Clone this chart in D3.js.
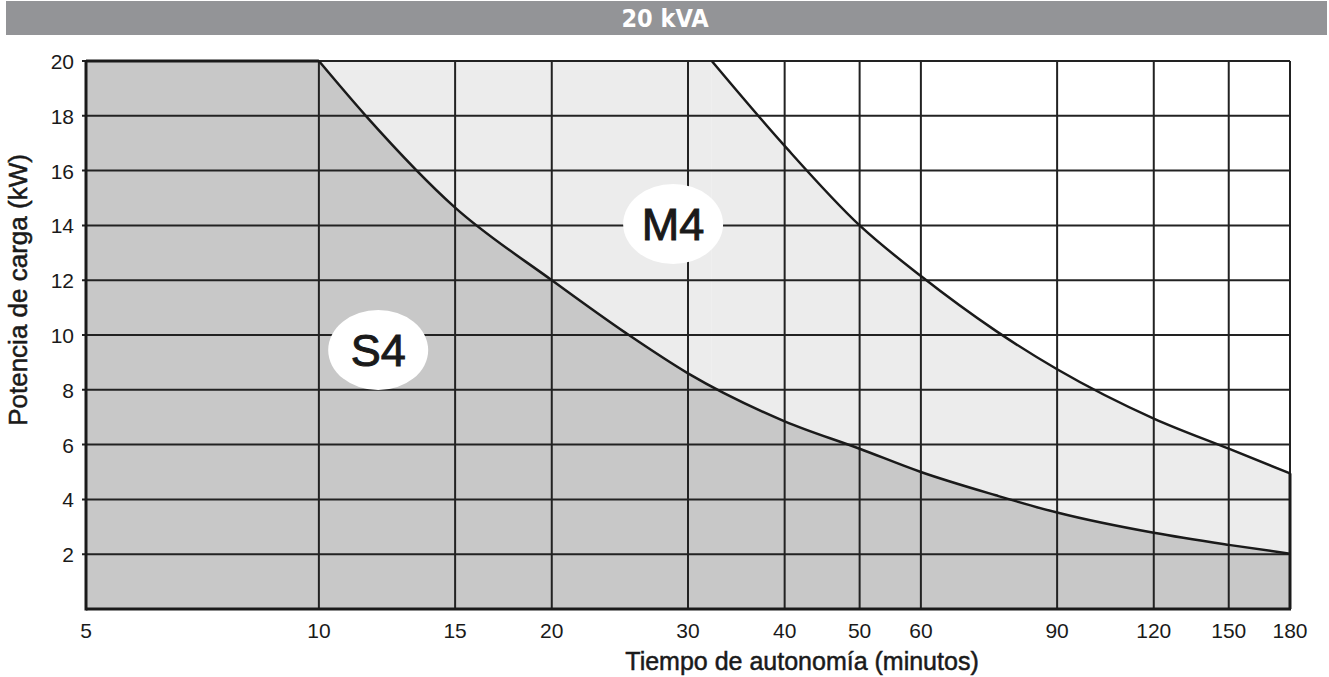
<!DOCTYPE html>
<html>
<head>
<meta charset="utf-8">
<script src="https://cdn.jsdelivr.net/npm/d3@7"></script>
<style>
  body { margin: 0; background: #fff; }
  text { font-family: "Liberation Sans", Arial, sans-serif; fill: #1a1a1a; }
</style>
</head>
<body>
<div id="chart"></div>
<script>
// tick values
var xTicks = [5, 10, 15, 20, 30, 40, 50, 60, 90, 120, 150, 180];
var yTicks = [2, 4, 6, 8, 10, 12, 14, 16, 18, 20];

// S4: flat top then decreasing curve
var s4FlatTime = [5, 10];
var s4FlatPower = [20, 20];
var s4Time = [10, 11.5, 15, 20, 25, 30, 40, 50, 60, 75, 90, 120, 150, 180];
var s4Power = [20, 18, 14.65, 12.0, 10.05, 8.6, 6.85, 5.85, 5.0, 4.15, 3.52, 2.78, 2.34, 2.02];

// M4: flat top then decreasing curve
var m4FlatTime = [10, 32.2];
var m4FlatPower = [20, 20];
var m4Time = [32.2, 40, 50, 60, 75, 90, 120, 150, 180];
var m4Power = [20, 16.9, 14.0, 12.15, 10.15, 8.75, 6.95, 5.85, 4.95];

// label bubbles
var labels = [
  {name: "S4", time: 11.93, power: 9.45},
  {name: "M4", time: 28.7, power: 14.05}
];

var W = 1329, H = 677;

var svg = d3.select("#chart")
  .append("svg")
  .attr("width", W)
  .attr("height", H);

var x = d3.scaleLog().domain([5, 180]).range([86, 1290]);
var y = d3.scaleLinear().domain([0, 20]).range([609, 61]);

function zip(t, p) { return t.map(function (d, i) { return [d, p[i]]; }); }

// title bar
svg.append("rect")
  .attr("x", 6).attr("y", 1)
  .attr("width", 1321).attr("height", 34)
  .attr("fill", "#939497");
svg.append("text")
  .attr("x", 665).attr("y", 27)
  .attr("text-anchor", "middle")
  .style("fill", "#fff")
  .style("font-family", "'Liberation Sans Narrow', 'DejaVu Sans Condensed', sans-serif")
  .style("font-weight", "bold")
  .style("font-size", "25px")
  .text("20 kVA");

var areaCurve = d3.area()
  .x(function (d) { return x(d[0]); })
  .y0(y(0))
  .y1(function (d) { return y(d[1]); })
  .curve(d3.curveMonotoneX);
var areaFlat = d3.area()
  .x(function (d) { return x(d[0]); })
  .y0(y(0))
  .y1(function (d) { return y(d[1]); });
var lineCurve = d3.line()
  .x(function (d) { return x(d[0]); })
  .y(function (d) { return y(d[1]); })
  .curve(d3.curveMonotoneX);
var lineFlat = d3.line()
  .x(function (d) { return x(d[0]); })
  .y(function (d) { return y(d[1]); });

// M4 light fill
svg.append("path").attr("d", areaFlat(zip(m4FlatTime, m4FlatPower))).attr("fill", "#ececec");
svg.append("path").attr("d", areaCurve(zip(m4Time, m4Power))).attr("fill", "#ececec");
// S4 grey fill
svg.append("path").attr("d", areaFlat(zip(s4FlatTime, s4FlatPower))).attr("fill", "#c8c8c8");
svg.append("path").attr("d", areaCurve(zip(s4Time, s4Power))).attr("fill", "#c8c8c8");

// grid
svg.append("g").selectAll("line.v")
  .data(xTicks)
  .enter().append("line")
  .attr("x1", function (d) { return x(d); })
  .attr("x2", function (d) { return x(d); })
  .attr("y1", y(20)).attr("y2", y(0))
  .attr("stroke", "#222").attr("stroke-width", 2);
svg.append("g").selectAll("line.h")
  .data(yTicks)
  .enter().append("line")
  .attr("x1", x(5) - 4).attr("x2", x(180))
  .attr("y1", function (d) { return y(d); })
  .attr("y2", function (d) { return y(d); })
  .attr("stroke", "#222").attr("stroke-width", 2);

// curves
svg.append("path").attr("d", lineFlat(zip(s4FlatTime, s4FlatPower)))
  .attr("fill", "none").attr("stroke", "#1a1a1a").attr("stroke-width", 3);
svg.append("path").attr("d", lineCurve(zip(s4Time, s4Power)))
  .attr("fill", "none").attr("stroke", "#1a1a1a").attr("stroke-width", 2.5);
svg.append("path").attr("d", lineCurve(zip(m4Time, m4Power)))
  .attr("fill", "none").attr("stroke", "#1a1a1a").attr("stroke-width", 2.5);

// frame
svg.append("line")
  .attr("x1", x(5)).attr("x2", x(5)).attr("y1", y(20) - 1).attr("y2", y(0) + 1.5)
  .attr("stroke", "#1a1a1a").attr("stroke-width", 3);
svg.append("line")
  .attr("x1", x(5)).attr("x2", x(180) + 1).attr("y1", y(0)).attr("y2", y(0))
  .attr("stroke", "#1a1a1a").attr("stroke-width", 3);
svg.append("line")
  .attr("x1", x(180)).attr("x2", x(180)).attr("y1", y(m4Power[m4Power.length - 1])).attr("y2", y(0))
  .attr("stroke", "#1a1a1a").attr("stroke-width", 3);

// tick labels
svg.append("g").selectAll("text")
  .data(yTicks)
  .enter().append("text")
  .attr("x", 74)
  .attr("y", function (d) { return y(d) + 8; })
  .attr("text-anchor", "end")
  .style("font-size", "21px")
  .text(function (d) { return d; });
svg.append("g").selectAll("text")
  .data(xTicks)
  .enter().append("text")
  .attr("x", function (d) { return x(d); })
  .attr("y", 638)
  .attr("text-anchor", "middle")
  .style("font-size", "21px")
  .text(function (d) { return d; });

// axis titles
svg.append("text")
  .attr("transform", "translate(27," + 290 + ") rotate(-90)")
  .attr("text-anchor", "middle")
  .style("font-size", "26px")
  .style("stroke", "#1a1a1a").style("stroke-width", 0.5)
  .text("Potencia de carga (kW)");
svg.append("text")
  .attr("x", 802).attr("y", 670)
  .attr("text-anchor", "middle")
  .style("font-size", "25px")
  .style("stroke", "#1a1a1a").style("stroke-width", 0.5)
  .text("Tiempo de autonomía (minutos)");

// label bubbles
var lab = svg.append("g").selectAll("g")
  .data(labels)
  .enter().append("g")
  .attr("transform", function (d) { return "translate(" + x(d.time) + "," + y(d.power) + ")"; });
lab.append("ellipse").attr("rx", 50).attr("ry", 40).attr("fill", "#fff");
lab.append("text")
  .attr("text-anchor", "middle")
  .attr("y", 16)
  .style("font-size", "45px")
  .style("stroke", "#1a1a1a").style("stroke-width", 1)
  .text(function (d) { return d.name; });
</script>
</body>
</html>
